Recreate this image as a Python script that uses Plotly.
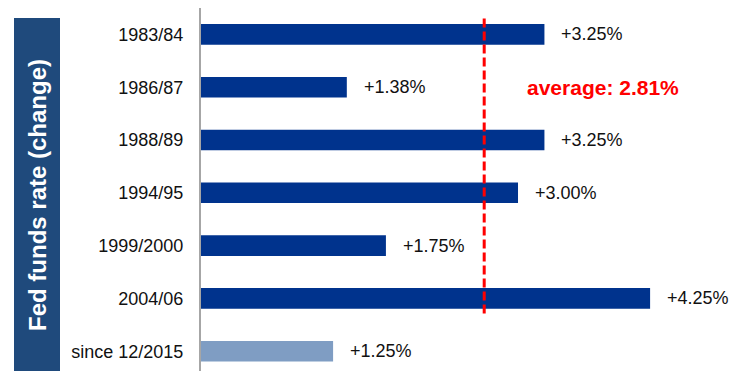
import plotly.graph_objects as go

categories = ["1983/84", "1986/87", "1988/89", "1994/95", "1999/2000", "2004/06", "since 12/2015"]
changes = [3.25, 1.38, 3.25, 3.00, 1.75, 4.25, 1.25]
bar_colors = ["#00338D"] * 6 + ["#7F9DC3"]
avg_label = "average: 2.81%"
avg_line_x = 2.68  # position of dashed line as drawn
y_title = "Fed funds rate (change)"

W, H = 737, 371
L, R, T, B = 201, 0, 8, 0
px_per_unit = 105.67
x_max = (W - L - R) / px_per_unit

fig = go.Figure()
fig.add_trace(go.Bar(
    x=changes, y=categories, orientation="h",
    marker=dict(color=bar_colors, line=dict(width=0)),
    width=0.39, hoverinfo="skip", showlegend=False,
))

annotations = []
for c, v in zip(categories, changes):
    annotations.append(dict(
        x=v, y=c, xref="x", yref="y", text=f"+{v:.2f}%", showarrow=False,
        xanchor="left", yanchor="middle", xshift=15,
        font=dict(family="Liberation Sans, Arial", size=18, color="#111111"),
    ))
annotations.append(dict(
    x=3.80, y=categories[1], xref="x", yref="y", text=f"<b>{avg_label}</b>", showarrow=False,
    xanchor="center", yanchor="middle",
    font=dict(family="Liberation Sans, Arial", size=21, color="#FF0000"),
))
pw = W - L - R
ph = H - T - B
annotations.append(dict(
    x=(37 - L) / pw, y=1 - (195 - T) / ph, xref="paper", yref="paper",
    text=f"<b>{y_title}</b>", textangle=-90, showarrow=False,
    xanchor="center", yanchor="middle",
    font=dict(family="Liberation Sans, Arial", size=24, color="#FFFFFF"),
))

shapes = [
    dict(type="rect", xref="paper", yref="paper",
         x0=(14 - L) / pw, x1=(60 - L) / pw, y0=0, y1=1 - (18 - T) / ph,
         fillcolor="#1F4A7C", line=dict(width=0), layer="below"),
    dict(type="line", xref="x", yref="y", x0=avg_line_x, x1=avg_line_x, y0=-0.3, y1=5.33,
         line=dict(color="#FF0000", width=3, dash="9px,4px")),
]

fig.update_layout(
    width=W, height=H,
    margin=dict(l=L, r=R, t=T, b=B, pad=0),
    paper_bgcolor="white", plot_bgcolor="white",
    xaxis=dict(range=[0, x_max], showgrid=False, zeroline=False, showticklabels=False,
               showline=False, ticks=""),
    yaxis=dict(type="category", categoryorder="array", categoryarray=categories,
               range=[6.375, -0.5], showgrid=False, zeroline=False,
               showline=True, linecolor="#A6A6A6", linewidth=2,
               ticks="", ticklabelstandoff=12,
               tickfont=dict(family="Liberation Sans, Arial", size=18, color="#111111")),
    annotations=annotations, shapes=shapes,
    bargap=0.61,
)

fig.write_html("out.html", config={"displayModeBar": False},
               post_script="document.body.style.margin='0px';document.body.style.overflow='hidden';")
